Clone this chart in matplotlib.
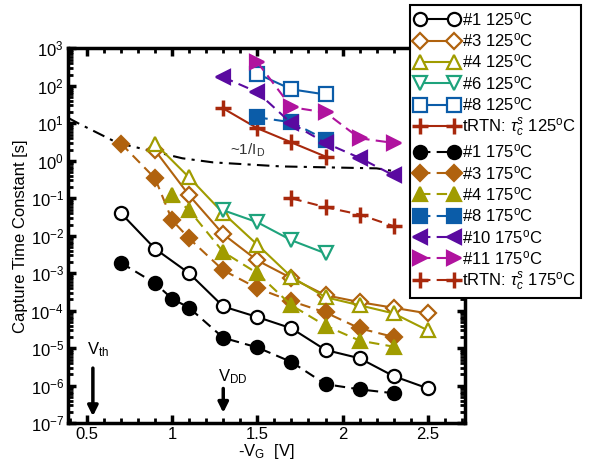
import matplotlib.pyplot as plt
from matplotlib.ticker import MultipleLocator, LogLocator, NullFormatter

plt.rcParams['font.family'] = ['Liberation Sans', 'DejaVu Sans']
plt.rcParams['mathtext.fontset'] = 'custom'
plt.rcParams['mathtext.rm'] = 'Liberation Sans'
plt.rcParams['mathtext.it'] = 'Liberation Sans:italic'

# data (x: -VG in V, y: capture time constant in s)
v1_125 = [0.7, 0.9, 1.1, 1.3, 1.5, 1.7, 1.9, 2.1, 2.3, 2.5]
t1_125 = [4e-2, 4.5e-3, 1e-3, 1.3e-4, 6.8e-5, 3.4e-5, 9e-6, 5.4e-6, 1.8e-6, 8.5e-7]
v3_125 = [0.9, 1.1, 1.3, 1.5, 1.7, 1.9, 2.1, 2.3, 2.5]
t3_125 = [1.9, 1.2e-1, 1.1e-2, 2.2e-3, 7.4e-4, 2.6e-4, 1.7e-4, 1.2e-4, 8.5e-5]
v4_125 = [0.9, 1.1, 1.3, 1.5, 1.7, 1.9, 2.1, 2.3, 2.5]
t4_125 = [2.9, 3.6e-1, 4e-2, 5.8e-3, 8e-4, 2.3e-4, 1.4e-4, 8.5e-5, 3e-5]
v6_125 = [1.3, 1.5, 1.7, 1.9]
t6_125 = [4.8e-2, 2.3e-2, 7.6e-3, 3.4e-3]
v8_125 = [1.5, 1.7, 1.9]
t8_125 = [210, 81, 59]
vr_125 = [1.3, 1.5, 1.7, 1.9]
tr_125 = [25, 7.4, 3.1, 1.3]

v1_175 = [0.7, 0.9, 1.0, 1.1, 1.3, 1.5, 1.7, 1.9, 2.1, 2.3]
t1_175 = [1.9e-3, 5.4e-4, 2.1e-4, 1.2e-4, 1.9e-5, 1.05e-5, 4.3e-6, 1.1e-6, 8e-7, 6.3e-7]
v3_175 = [0.7, 0.9, 1.0, 1.1, 1.3, 1.5, 1.7, 1.9, 2.1, 2.3]
t3_175 = [2.9, 3.4e-1, 2.6e-2, 8.5e-3, 1.2e-3, 4e-4, 1.8e-4, 9e-5, 3.4e-5, 2e-5]
v4_175 = [1.0, 1.1, 1.3, 1.5, 1.7, 1.9, 2.1, 2.3]
t4_175 = [1.2e-1, 4.8e-2, 3.7e-3, 1e-3, 1.4e-4, 4e-5, 1.6e-5, 1.1e-5]
v8_175 = [1.5, 1.7, 1.9]
t8_175 = [14.5, 10.7, 3.7]
v10_175 = [1.3, 1.5, 1.7, 1.9, 2.1, 2.3]
t10_175 = [170, 68, 10, 3, 1.2, 0.41]
v11_175 = [1.5, 1.7, 1.9, 2.1, 2.3]
t11_175 = [430, 27, 19.5, 4, 3]
vr_175 = [1.7, 1.9, 2.1, 2.3]
tr_175 = [0.1, 5.8e-2, 3.7e-2, 1.8e-2]

# ~1/ID guide curve
v_id = [0.39, 0.45, 0.68, 0.91, 1.06, 1.24, 1.64, 2.2, 2.34]
t_id = [14, 10, 3.0, 1.7, 1.17, 0.91, 0.71, 0.63, 0.5]

c1 = 'black'
c3 = '#b0620e'
c4 = '#a09c00'
c6 = '#1ea37c'
c8 = '#0b5ca8'
c10 = '#5a0aa0'
c11 = '#b0139e'
cr = '#a8280c'

deg = '$^{\\mathrm{o}}$C'

fig = plt.figure(figsize=(5.98, 4.61), dpi=100)
ax = fig.add_axes([0.114, 0.082, 0.664, 0.813])

ms = 9.5
mew = 1.6
lw = 1.5
dash = (0, (5, 3))

ax.plot(v_id, t_id, color='black', lw=1.5, ls=(0, (6, 3, 1.5, 3)), zorder=1)

series_125 = [
    (v1_125, t1_125, c1, 'o', '#1 125' + deg),
    (v3_125, t3_125, c3, 'D', '#3 125' + deg),
    (v4_125, t4_125, c4, '^', '#4 125' + deg),
    (v6_125, t6_125, c6, 'v', '#6 125' + deg),
    (v8_125, t8_125, c8, 's', '#8 125' + deg),
]
handles = []
for v, t, c, m, lab in series_125:
    msz = ms - 1.5 if m == 'D' else ms
    h, = ax.plot(v, t, color=c, marker=m, ms=msz, mfc='white', mec=c, mew=mew,
                 lw=lw, label=lab, zorder=3)
    handles.append(h)
h, = ax.plot(vr_125, tr_125, color=cr, marker='+', ms=12, mew=2.5, lw=lw,
             label='tRTN: $\\tau_c^s$ 125' + deg, zorder=3)
handles.append(h)

series_175 = [
    (v1_175, t1_175, c1, 'o', '#1 175' + deg),
    (v3_175, t3_175, c3, 'D', '#3 175' + deg),
    (v4_175, t4_175, c4, '^', '#4 175' + deg),
    (v8_175, t8_175, c8, 's', '#8 175' + deg),
    (v10_175, t10_175, c10, '<', '#10 175' + deg),
    (v11_175, t11_175, c11, '>', '#11 175' + deg),
]
for v, t, c, m, lab in series_175:
    msz = ms - 1.5 if m == 'D' else ms
    h, = ax.plot(v, t, color=c, marker=m, ms=msz, mfc=c, mec=c, mew=mew,
                 lw=lw, ls=dash, label=lab, zorder=3)
    handles.append(h)
h, = ax.plot(vr_175, tr_175, color=cr, marker='+', ms=12, mew=2.5, lw=lw, ls=dash,
             label='tRTN: $\\tau_c^s$ 175' + deg, zorder=3)
handles.append(h)

ax.set_yscale('log')
ax.set_xlim(0.39, 2.72)
ax.set_ylim(1e-7, 1e3)
ax.xaxis.set_major_locator(MultipleLocator(0.5))
ax.xaxis.set_minor_locator(MultipleLocator(0.1))
ax.yaxis.set_major_locator(LogLocator(base=10, numticks=20))
ax.yaxis.set_minor_locator(LogLocator(base=10, subs=range(2, 10), numticks=20))
ax.yaxis.set_minor_formatter(NullFormatter())
ax.set_xticks([0.5, 1, 1.5, 2, 2.5])
ax.set_xticklabels(['0.5', '1', '1.5', '2', '2.5'])

ax.tick_params(which='both', direction='in', top=True, right=True, labelsize=12)
ax.tick_params(which='major', length=6, width=2.5, pad=3)
ax.tick_params(which='minor', length=3.5, width=2)
for s in ax.spines.values():
    s.set_linewidth(2.5)

ax.set_xlabel('-V$_{\\mathrm{G}}$  [V]', fontsize=12, labelpad=0)
ax.set_ylabel('Capture Time Constant [s]', fontsize=12, labelpad=2)

ax.text(1.34, 1.5, '~1/I$_{\\mathrm{D}}$', fontsize=11, color='#333333')
ax.text(0.5, 7e-6, 'V$_{\\mathrm{th}}$', fontsize=12)
ax.annotate('', xy=(0.535, 1.3e-7), xytext=(0.535, 3.5e-6),
            arrowprops=dict(arrowstyle='-|>', color='black', lw=2.5, mutation_scale=15))
ax.text(1.27, 1.3e-6, 'V$_{\\mathrm{DD}}$', fontsize=12)
ax.annotate('', xy=(1.3, 1.6e-7), xytext=(1.3, 1e-6),
            arrowprops=dict(arrowstyle='-|>', color='black', lw=2.5, mutation_scale=15))

leg = fig.legend(handles=handles, loc='upper left', bbox_to_anchor=(0.686, 0.989),
                 fontsize=12, numpoints=2, handlelength=2.6, handletextpad=0.2,
                 labelspacing=0.2, borderpad=0.3, borderaxespad=0.0,
                 fancybox=False, framealpha=1, edgecolor='black')
leg.get_frame().set_linewidth(1.5)

plt.savefig('out.png', dpi=100)
plt.close()
